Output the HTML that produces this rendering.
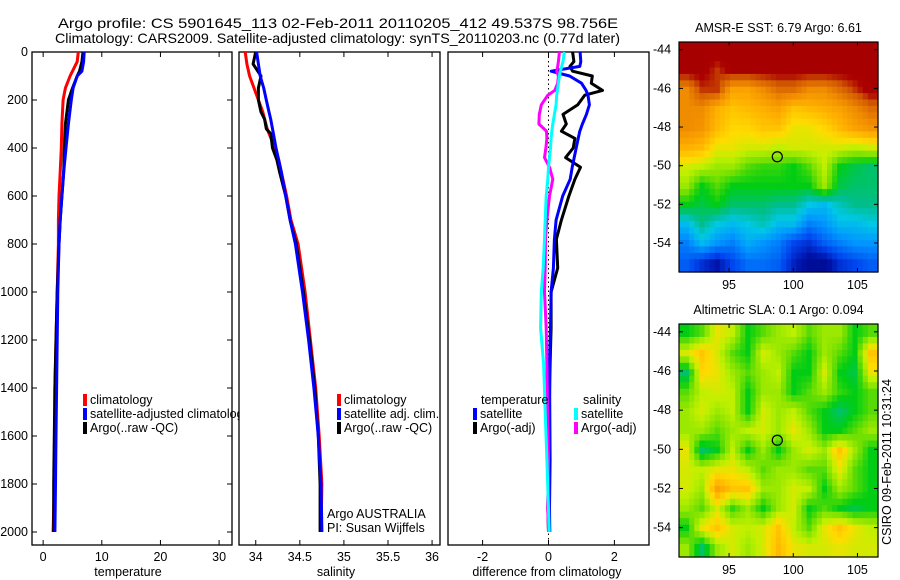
<!DOCTYPE html>
<html><head><meta charset="utf-8"><style>
body{margin:0;background:#fff;}
svg{display:block;font-family:"Liberation Sans",sans-serif;}
text{fill:#000;}
</style></head><body>
<svg id="s" width="900" height="580" viewBox="0 0 900 580" xmlns="http://www.w3.org/2000/svg">
<text x="58" y="28" font-size="14" textLength="560" lengthAdjust="spacingAndGlyphs">Argo profile: CS 5901645_113 02-Feb-2011 20110205_412 49.537S 98.756E</text>
<text x="55" y="43" font-size="14" textLength="565" lengthAdjust="spacingAndGlyphs">Climatology: CARS2009. Satellite-adjusted climatology: synTS_20110203.nc (0.77d later)</text>
<g id="g"></g>
</svg>
<script>
// depth grids
const tDepth=[0,40,80,100,150,200,300,400,500,600,700,800,1000,1200,1400,1600,1800,2000];
const tClim=[6.0,5.8,5.0,4.6,3.8,3.4,3.2,3.1,2.9,2.7,2.6,2.6,2.4,2.2,2.0,2.0,1.9,1.7];
const tSat=[7.0,6.9,6.6,5.8,5.1,4.8,4.3,3.9,3.5,3.2,2.9,2.7,2.5,2.4,2.3,2.2,2.1,2.0];
const tArgo=[6.8,6.6,6.2,5.8,5.0,4.3,3.8,3.6,3.5,3.2,2.9,2.7,2.4,2.2,2.0,1.9,1.8,1.8];
const sDepth=[0,50,100,150,200,250,280,320,340,400,450,500,600,700,800,1000,1200,1400,1600,1800,2000];
const sClim=[33.88,33.90,33.93,33.98,34.03,34.08,34.10,34.13,34.15,34.22,34.26,34.29,34.35,34.40,34.48,34.56,34.62,34.68,34.72,34.75,34.74];
const sSat=[34.01,34.03,34.05,34.09,34.12,34.15,34.17,34.19,34.20,34.23,34.26,34.29,34.34,34.39,34.45,34.53,34.60,34.66,34.71,34.74,34.75];
const sArgo=[34.00,33.97,34.06,34.03,34.03,34.06,34.10,34.12,34.17,34.19,34.24,34.27,34.34,34.39,34.46,34.54,34.61,34.67,34.71,34.73,34.73];
const dDepth=[0,40,60,80,100,130,160,180,220,260,300,330,360,400,440,480,530,600,700,780,900,1000,1150,1300,1500,1700,1900,2000];
const dTSat=[0.96,0.98,0.95,0.08,0.64,1.0,1.14,1.2,1.24,1.15,1.03,0.95,0.9,0.84,0.78,0.72,0.66,0.43,0.23,0.18,0.15,0.08,0.06,0.03,0.04,0.05,0.03,0.04];
const dTArgo=[0.73,0.77,0.65,0.73,1.33,1.3,1.64,1.1,0.89,0.44,0.54,0.39,0.8,0.75,0.52,0.97,0.8,0.62,0.39,0.24,0.28,0.08,0.08,0.05,0.02,0.0,-0.02,0.0];
const dSSat=[0.48,0.44,0.40,0.36,0.33,0.30,0.27,0.25,0.23,0.18,0.13,0.10,0.08,0.06,0.03,0.0,-0.02,-0.07,-0.10,-0.12,-0.16,-0.22,-0.24,-0.15,-0.10,-0.05,0.0,0.02];
const dSArgo=[0.33,0.3,0.28,0.25,0.3,0.28,0.19,-0.02,-0.22,-0.28,-0.29,-0.06,-0.05,-0.08,-0.12,0.03,0.13,0.03,-0.05,-0.09,-0.10,-0.12,-0.07,-0.05,-0.03,0.0,-0.02,0.0];
const depthTicks=[0,200,400,600,800,1000,1200,1400,1600,1800,2000];
const tempTicks=[0,10,20,30];
const salTicks=[34,34.5,35,35.5,36];
const salTickLabels=["34","34.5","35","35.5","36"];
const diffTicks=[-2,0,2];
const lonTicks=[95,100,105];
const latTicks=[-44,-46,-48,-50,-52,-54];
// SST map grid (colormap index 0..1), rows lat -44..-55, cols lon 91.1..106.6
const sstGrid=[
[.95,.95,.95,.95,.95,.95,.95,.95,.95,.95,.95,.95,.95],
[.95,.95,.9,.95,.95,.95,.95,.95,.95,.95,.95,.95,.95],
[.8,.9,.9,.75,.75,.8,.85,.85,.8,.8,.85,.9,.95],
[.8,.8,.72,.68,.7,.72,.75,.68,.7,.72,.75,.8,.85],
[.8,.78,.7,.65,.65,.68,.68,.62,.62,.65,.7,.75,.78],
[.72,.7,.62,.62,.6,.6,.58,.6,.6,.6,.6,.58,.6],
[.6,.58,.55,.55,.5,.48,.48,.45,.5,.58,.45,.42,.4],
[.55,.45,.5,.45,.45,.45,.45,.45,.45,.55,.42,.4,.4],
[.45,.42,.45,.4,.4,.4,.38,.38,.32,.3,.35,.38,.38],
[.3,.38,.32,.3,.32,.35,.3,.3,.22,.25,.3,.3,.32],
[.22,.3,.25,.22,.28,.25,.22,.15,.12,.18,.22,.25,.25],
[.18,.12,.08,.15,.2,.2,.18,.1,.05,.05,.12,.15,.18]];
const slaGrid=[
[.45,.5,.62,.58,.45,.5,.55,.58,.5,.55,.55,.45,.5],
[.6,.68,.6,.5,.45,.6,.55,.5,.45,.55,.5,.45,.68],
[.4,.65,.62,.55,.5,.55,.58,.45,.45,.6,.45,.42,.62],
[.5,.58,.6,.58,.45,.55,.55,.45,.5,.55,.48,.45,.5],
[.55,.6,.55,.58,.45,.6,.55,.58,.5,.45,.4,.45,.5],
[.55,.55,.5,.55,.58,.6,.55,.62,.55,.45,.45,.5,.55],
[.62,.4,.45,.58,.45,.55,.45,.55,.6,.55,.68,.55,.45],
[.6,.58,.62,.62,.58,.5,.55,.55,.5,.5,.62,.5,.45],
[.6,.55,.75,.68,.68,.55,.55,.6,.58,.45,.55,.5,.45],
[.55,.5,.6,.48,.55,.45,.55,.6,.45,.5,.45,.42,.45],
[.45,.62,.68,.6,.58,.6,.68,.58,.5,.62,.68,.62,.58],
[.55,.4,.55,.6,.55,.6,.7,.62,.6,.6,.62,.6,.6]];
const floatLon=98.756, floatLat=-49.537;

const NS='http://www.w3.org/2000/svg';
const G=document.getElementById('g');
function mk(tag,attrs,parent){const e=document.createElementNS(NS,tag);for(const k in attrs)e.setAttribute(k,attrs[k]);(parent||G).appendChild(e);return e;}
function txt(s,x,y,fs,anchor,parent){const e=mk('text',{x:x,y:y,'font-size':fs,'text-anchor':anchor||'start'},parent);e.textContent=s;return e;}
const PT=52,PB=545;
const yD=d=>52+d*0.24;

function panel(name,x0,x1,xmin,xmax){
  const g=mk('g',{});
  
  
  const fx=v=>x0+(v-xmin)/(xmax-xmin)*(x1-x0);
  const r=mk('rect',{x:x0,y:PT,width:x1-x0,height:PB-PT,fill:'#fff',stroke:'#000','stroke-width':1.3},g);
  
  
  return {g,fx};
}
function line(p,xs,ds,color,name,w){
  let d='';xs.forEach((v,i)=>{d+=(i?'L':'M')+p.fx(v).toFixed(1)+','+yD(ds[i]).toFixed(1);});
  const e=mk('path',{d:d,fill:'none',stroke:color,'stroke-width':w||3,'stroke-linejoin':'round'},p.g);
  
  
}
function xticks(p,ticks,labels,axisName){
  ticks.forEach((t,i)=>{const x=p.fx(t);
    mk('line',{x1:x,y1:PB,x2:x,y2:PB-5,stroke:'#000'},p.g);
    mk('line',{x1:x,y1:PT,x2:x,y2:PT+5,stroke:'#000'},p.g);
    const e=txt(labels[i],x,561,12.5,'middle',p.g);
    
    
  });
}
function legend(p,items,x,y){
  items.forEach((it,i)=>{
    const r=mk('rect',{x:x,y:y+i*14-10,width:4,height:12,fill:it[1]},p.g);
    
    
    const e=txt(it[0],x+7,y+i*14,12.5,'start',p.g);
    
    
  });
}

// Temperature panel
const p1=panel('temperature-panel',32,232,-1.9,32.2);
depthTicks.forEach(d=>{const y=yD(d);
  mk('line',{x1:32,y1:y,x2:37,y2:y,stroke:'#000'},p1.g);
  mk('line',{x1:232,y1:y,x2:227,y2:y,stroke:'#000'},p1.g);
  const e=txt(String(d),28,y+4,12.5,'end',p1.g);
  
  
});
xticks(p1,tempTicks,tempTicks.map(String),'temperature');
line(p1,tClim,tDepth,'#f00','temp-climatology-line');
line(p1,tArgo,tDepth,'#000','temp-argo-line');
line(p1,tSat,tDepth,'#00f','temp-satellite-line');
legend(p1,[['climatology','#f00'],['satellite-adjusted climatology','#00f'],['Argo(..raw -QC)','#000']],83,404);
{const e=txt('temperature',128,576,12.5,'middle',p1.g);}

// Salinity panel
const p2=panel('salinity-panel',239,440,33.81,36.09);
xticks(p2,salTicks,salTickLabels,'salinity');
line(p2,sClim,sDepth,'#f00','sal-climatology-line');
line(p2,sArgo,sDepth,'#000','sal-argo-line');
line(p2,sSat,sDepth,'#00f','sal-satellite-line');
legend(p2,[['climatology','#f00'],['satellite adj. clim.','#00f'],['Argo(..raw -QC)','#000']],337,404);
{const e=txt('Argo AUSTRALIA',327,518,12.5,'start',p2.g);
 const f=txt('PI: Susan Wijffels',327,532,12.5,'start',p2.g);
 const t=txt('salinity',336,576,12.5,'middle',p2.g);}

// Difference panel
const p3=panel('difference-panel',448,649,-3.05,3.05);
xticks(p3,diffTicks,diffTicks.map(String),'difference');
{const x=p3.fx(0);const z=mk('line',{x1:x,y1:PT,x2:x,y2:PB,stroke:'#000','stroke-dasharray':'1.5,3'},p3.g);}
line(p3,dTArgo,dDepth,'#000','diff-temp-argo-line');
line(p3,dTSat,dDepth,'#00f','diff-temp-satellite-line');
line(p3,dSArgo,dDepth,'#f0f','diff-sal-argo-line');
line(p3,dSSat,dDepth,'#0ff','diff-sal-satellite-line');
{const e=txt('temperature',481,404,12.5,'start',p3.g);
 const f=txt('salinity',583,404,12.5,'start',p3.g);}
legend(p3,[['satellite','#00f'],['Argo(-adj)','#000']],473,418);
legend(p3,[['satellite','#0ff'],['Argo(-adj)','#f0f']],574,418);
{const e=txt('difference from climatology',547,576,12.5,'middle',p3.g);}

// colormap stops resembling the reference palette
const cmStops=[[0,[0,0,120]],[0.08,[0,20,170]],[0.15,[0,70,240]],[0.25,[0,150,255]],[0.32,[0,200,230]],[0.38,[0,190,140]],[0.45,[0,205,20]],[0.52,[120,225,0]],[0.58,[190,240,0]],[0.64,[255,220,0]],[0.72,[255,175,0]],[0.8,[240,140,0]],[0.88,[210,90,0]],[0.93,[170,0,0]],[1,[160,0,0]]];
function cmap(v){
  for(let i=1;i<cmStops.length;i++){if(v<=cmStops[i][0]){const a=cmStops[i-1],b=cmStops[i];const t=(v-a[0])/(b[0]-a[0]);
    return 'rgb('+a[1].map((c,k)=>Math.round(c+(b[1][k]-c)*t)).join(',')+')';}}
  return 'rgb(160,0,0)';
}
function sample(grid,fi,fj){
  const nr=grid.length,nc=grid[0].length;
  fi=Math.max(0,Math.min(nr-1,fi));fj=Math.max(0,Math.min(nc-1,fj));
  const i0=Math.floor(fi),j0=Math.floor(fj),i1=Math.min(nr-1,i0+1),j1=Math.min(nc-1,j0+1),di=fi-i0,dj=fj-j0;
  return grid[i0][j0]*(1-di)*(1-dj)+grid[i0][j1]*(1-di)*dj+grid[i1][j0]*di*(1-dj)+grid[i1][j1]*di*dj;
}
function map(name,grid,top,bottom,title){
  const L=679,R=878,lonMin=91.1,lonMax=106.6,latTop=-43.6,latBot=-55.5;
  const fx=v=>L+(v-lonMin)/(lonMax-lonMin)*(R-L);
  const fy=v=>top+(latTop-v)/(latTop-latBot)*(bottom-top);
  const g=mk('g',{});
  
  
  const nr=grid.length,nc=grid[0].length,S=3;
  const cw=(R-L)/(nc*S),ch=(bottom-top)/(nr*S);
  for(let i=0;i<nr*S;i++)for(let j=0;j<nc*S;j++){
    const v=sample(grid,(i+0.5)/S-0.5,(j+0.5)/S-0.5);
    const c=mk('rect',{x:(L+j*cw).toFixed(2),y:(top+i*ch).toFixed(2),width:(cw+0.6).toFixed(2),height:(ch+0.6).toFixed(2),fill:cmap(v)},g);
    
    
  }
  mk('rect',{x:L,y:top,width:R-L,height:bottom-top,fill:'none',stroke:'#000','stroke-width':1.2},g);
  lonTicks.forEach(t=>{const x=fx(t);mk('line',{x1:x,y1:bottom,x2:x,y2:bottom-4,stroke:'#000'},g);mk('line',{x1:x,y1:top,x2:x,y2:top+4,stroke:'#000'},g);
    const e=txt(String(t),x,bottom+17,12.5,'middle',g);});
  latTicks.forEach(t=>{const y=fy(t);mk('line',{x1:R,y1:y,x2:R-4,y2:y,stroke:'#000'},g);mk('line',{x1:L,y1:y,x2:L+4,y2:y,stroke:'#000'},g);
    const e=txt(String(t),653,y+4,12.5,'start',g);});
  const c=mk('circle',{cx:fx(floatLon),cy:fy(floatLat),r:5,fill:'none',stroke:'#000','stroke-width':1.2},g);
  
  
  const t=txt(title,(L+R)/2,top-10,12.5,'middle',g);
  
  
}
map('sst-map',sstGrid,42,272,'AMSR-E SST: 6.79 Argo: 6.61');
map('sla-map',slaGrid,324,557,'Altimetric SLA: 0.1 Argo: 0.094');
{const e=txt('CSIRO 09-Feb-2011 10:31:24',0,0,12.5,'middle');e.setAttribute('transform','translate(891,462) rotate(-90)');
 }
</script>
</body></html>
